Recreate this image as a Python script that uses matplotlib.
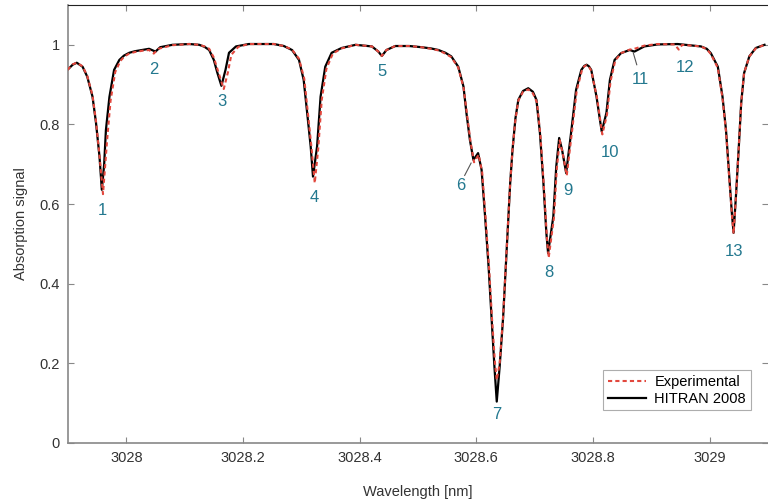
import matplotlib
matplotlib.use("Agg")
import matplotlib.pyplot as plt

plt.rcParams['font.family'] = ['Liberation Sans', 'DejaVu Sans']

# HITRAN 2008 simulation
hitran_wl = [
    3027.899, 3027.908, 3027.915, 3027.925, 3027.933, 3027.942, 3027.948, 3027.954,
    3027.958, 3027.962, 3027.965, 3027.971, 3027.979, 3027.988, 3027.996, 3028.005,
    3028.015, 3028.027, 3028.039, 3028.050, 3028.058, 3028.079, 3028.108, 3028.125,
    3028.134, 3028.142, 3028.150, 3028.156, 3028.163, 3028.170, 3028.176, 3028.188,
    3028.210, 3028.253, 3028.270, 3028.284, 3028.296, 3028.304, 3028.310, 3028.316,
    3028.320, 3028.327, 3028.333, 3028.341, 3028.352, 3028.369, 3028.393, 3028.421,
    3028.432, 3028.438, 3028.446, 3028.461, 3028.485, 3028.506, 3028.522, 3028.535,
    3028.547, 3028.557, 3028.569, 3028.578, 3028.583, 3028.589, 3028.595, 3028.603,
    3028.609, 3028.615, 3028.621, 3028.626, 3028.631, 3028.635, 3028.640, 3028.646,
    3028.652, 3028.658, 3028.662, 3028.667, 3028.672, 3028.680, 3028.689, 3028.697,
    3028.703, 3028.709, 3028.715, 3028.720, 3028.723, 3028.732, 3028.737, 3028.742,
    3028.747, 3028.754, 3028.763, 3028.771, 3028.780, 3028.785, 3028.789, 3028.793,
    3028.797, 3028.806, 3028.811, 3028.815, 3028.823, 3028.829, 3028.837, 3028.848,
    3028.863, 3028.871, 3028.888, 3028.911, 3028.945, 3028.985, 3028.995, 3029.002,
    3029.014, 3029.022, 3029.028, 3029.034, 3029.038, 3029.041, 3029.045, 3029.050,
    3029.054, 3029.059, 3029.068, 3029.079, 3029.094,
]
hitran_sig = [
    0.937, 0.950, 0.955, 0.945, 0.920, 0.870, 0.804, 0.719,
    0.636, 0.700, 0.786, 0.869, 0.937, 0.962, 0.973, 0.980,
    0.984, 0.987, 0.990, 0.983, 0.994, 1.000, 1.002, 1.000,
    0.995, 0.987, 0.962, 0.930, 0.897, 0.937, 0.980, 0.996,
    1.002, 1.002, 0.997, 0.987, 0.962, 0.912, 0.829, 0.745,
    0.669, 0.745, 0.870, 0.945, 0.980, 0.992, 1.000, 0.996,
    0.983, 0.972, 0.987, 0.997, 0.997, 0.994, 0.991, 0.987,
    0.980, 0.971, 0.945, 0.895, 0.829, 0.761, 0.711, 0.728,
    0.686, 0.569, 0.443, 0.317, 0.192, 0.104, 0.192, 0.317,
    0.485, 0.652, 0.736, 0.815, 0.862, 0.884, 0.891, 0.882,
    0.862, 0.779, 0.653, 0.528, 0.477, 0.569, 0.694, 0.766,
    0.736, 0.678, 0.786, 0.887, 0.937, 0.947, 0.950, 0.946,
    0.937, 0.870, 0.820, 0.782, 0.829, 0.912, 0.962, 0.979,
    0.987, 0.983, 0.996, 1.001, 1.002, 0.996, 0.990, 0.979,
    0.945, 0.870, 0.786, 0.661, 0.578, 0.528, 0.619, 0.745,
    0.853, 0.929, 0.971, 0.992, 1.000,
]

# measured spectrum
exp_wl = [
    3027.899, 3027.908, 3027.915, 3027.925, 3027.933, 3027.942, 3027.948, 3027.954,
    3027.960, 3027.967, 3027.973, 3027.981, 3027.990, 3027.997, 3028.005, 3028.015,
    3028.027, 3028.039, 3028.047, 3028.055, 3028.079, 3028.108, 3028.125, 3028.134,
    3028.142, 3028.150, 3028.157, 3028.167, 3028.174, 3028.180, 3028.192, 3028.210,
    3028.253, 3028.270, 3028.284, 3028.296, 3028.305, 3028.311, 3028.317, 3028.323,
    3028.329, 3028.335, 3028.343, 3028.354, 3028.369, 3028.393, 3028.421, 3028.432,
    3028.438, 3028.446, 3028.461, 3028.485, 3028.506, 3028.522, 3028.535, 3028.547,
    3028.557, 3028.569, 3028.578, 3028.584, 3028.590, 3028.596, 3028.604, 3028.610,
    3028.616, 3028.622, 3028.627, 3028.632, 3028.635, 3028.640, 3028.646, 3028.652,
    3028.658, 3028.662, 3028.667, 3028.672, 3028.680, 3028.689, 3028.697, 3028.704,
    3028.710, 3028.716, 3028.721, 3028.724, 3028.733, 3028.738, 3028.743, 3028.748,
    3028.755, 3028.764, 3028.772, 3028.781, 3028.785, 3028.789, 3028.793, 3028.797,
    3028.807, 3028.812, 3028.816, 3028.824, 3028.830, 3028.838, 3028.848, 3028.863,
    3028.871, 3028.888, 3028.911, 3028.940, 3028.947, 3028.953, 3028.985, 3028.995,
    3029.002, 3029.014, 3029.022, 3029.028, 3029.034, 3029.038, 3029.041, 3029.045,
    3029.050, 3029.054, 3029.059, 3029.068, 3029.079, 3029.094,
]
exp_sig = [
    0.937, 0.951, 0.955, 0.946, 0.922, 0.873, 0.808, 0.722,
    0.625, 0.760, 0.860, 0.932, 0.960, 0.971, 0.978, 0.982,
    0.985, 0.987, 0.978, 0.990, 0.999, 1.002, 1.000, 0.996,
    0.990, 0.968, 0.935, 0.889, 0.930, 0.975, 0.995, 1.002,
    1.002, 0.997, 0.988, 0.965, 0.915, 0.832, 0.748, 0.653,
    0.740, 0.862, 0.940, 0.978, 0.991, 1.000, 0.996, 0.983,
    0.972, 0.987, 0.997, 0.997, 0.994, 0.990, 0.986, 0.978,
    0.969, 0.943, 0.893, 0.826, 0.757, 0.705, 0.724, 0.680,
    0.562, 0.437, 0.310, 0.200, 0.158, 0.200, 0.320, 0.487,
    0.652, 0.736, 0.812, 0.860, 0.882, 0.888, 0.878, 0.855,
    0.770, 0.640, 0.515, 0.465, 0.565, 0.690, 0.760, 0.728,
    0.672, 0.782, 0.884, 0.936, 0.946, 0.949, 0.945, 0.935,
    0.866, 0.815, 0.775, 0.825, 0.908, 0.960, 0.979, 0.988,
    0.990, 0.998, 1.002, 1.001, 0.988, 1.000, 0.996, 0.989,
    0.977, 0.942, 0.866, 0.782, 0.656, 0.575, 0.526, 0.617,
    0.745, 0.853, 0.929, 0.971, 0.991, 1.000,
]

# line numbers and where they sit
line_ids = ['1', '2', '3', '4', '5', '6', '7', '8', '9', '10', '11', '12', '13']
label_wl = [3027.959, 3028.047, 3028.164, 3028.323, 3028.439, 3028.573, 3028.635,
            3028.724, 3028.757, 3028.829, 3028.882, 3028.957, 3029.041]
label_sig = [0.585, 0.939, 0.858, 0.616, 0.933, 0.646, 0.072,
             0.427, 0.634, 0.729, 0.914, 0.943, 0.480]

fig = plt.figure(figsize=(7.68, 5.01), dpi=100)
ax = fig.add_axes([68 / 768, 58 / 501, 700 / 768, 438 / 501])

ax.plot(hitran_wl, hitran_sig, color='black', lw=1.6, label='HITRAN 2008', zorder=2)
ax.plot(exp_wl, exp_sig, color='#e2473d', lw=1.5, ls=(0, (2.0, 1.5)),
        label='Experimental', zorder=3)

teal = '#23788f'
for name, xx, yy in zip(line_ids, label_wl, label_sig):
    ax.text(xx, yy, name, color=teal, fontsize=12, ha='center', va='center')

# leader lines for the two crowded labels
ax.plot([3028.580, 3028.591], [0.672, 0.703], color='#555555', lw=0.8)
ax.plot([3028.875, 3028.869], [0.950, 0.980], color='#555555', lw=0.8)

ax.set_xlim(3027.9, 3029.1)
ax.set_ylim(0, 1.1)
ax.set_xticks([3028, 3028.2, 3028.4, 3028.6, 3028.8, 3029])
ax.set_xticklabels(['3028', '3028.2', '3028.4', '3028.6', '3028.8', '3029'])
ax.set_yticks([0, 0.2, 0.4, 0.6, 0.8, 1])
ax.set_yticklabels(['0', '0.2', '0.4', '0.6', '0.8', '1'])
ax.tick_params(direction='in', length=4, width=0.8, color='#888888',
               labelsize=10.5, labelcolor='#333333', top=True, right=True, pad=6)

for side in ['left', 'bottom']:
    ax.spines[side].set_color('#888888')
    ax.spines[side].set_linewidth(1.2)
ax.spines['top'].set_color('#222222')
ax.spines['right'].set_visible(False)

ax.set_xlabel('Wavelength [nm]', fontsize=10.5, color='#333333', labelpad=14)
ax.set_ylabel('Absorption signal', fontsize=10.5, color='#333333', labelpad=8)

handles, labels = ax.get_legend_handles_labels()
leg = ax.legend(handles[::-1], labels[::-1], loc='lower right',
                bbox_to_anchor=(0.975, 0.075), borderaxespad=0, fontsize=10.5,
                fancybox=False, edgecolor='#999999', handlelength=2.6,
                borderpad=0.3, labelspacing=0.2, handletextpad=0.6)
leg.get_frame().set_linewidth(0.8)

fig.savefig('out.png', dpi=100)
